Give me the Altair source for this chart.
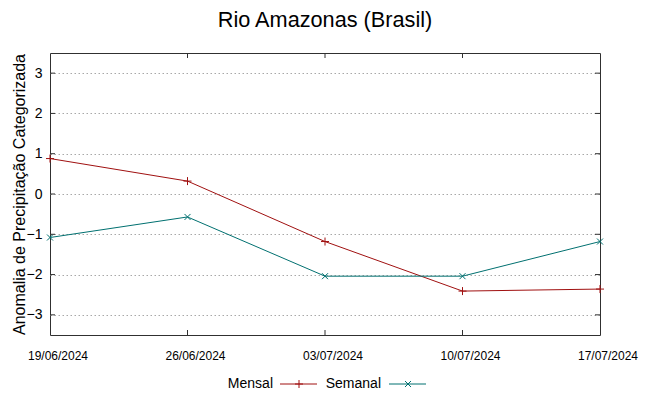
import altair as alt
import pandas as pd

dates = ["19/06/2024", "26/06/2024", "03/07/2024", "10/07/2024", "17/07/2024"]
mensal = [0.88, 0.32, -1.18, -2.41, -2.36]
semanal = [-1.08, -0.57, -2.04, -2.04, -1.18]
series = ["Mensal", "Semanal"]
colors = ["#a01010", "#007070"]
y_ticks = [-3, -2, -1, 0, 1, 2, 3]

W, H = 550, 282
FONT = "Liberation Sans"

rows = []
for d, m, s in zip(dates, mensal, semanal):
    rows.append({"date": d, "serie": series[0], "valor": m})
    rows.append({"date": d, "serie": series[1], "valor": s})
df = pd.DataFrame(rows)

xscale = alt.Scale(type="point", domain=dates, padding=0)
yscale = alt.Scale(domain=[-3.5, 3.5], nice=False, zero=False)

x_enc = alt.X("date:O", scale=xscale, sort=dates, axis=None)
y_enc = alt.Y("valor:Q", scale=yscale,
              axis=alt.Axis(title="Anomalia de Precipitação Categorizada", values=y_ticks,
                            titleFontSize=16, titleFont=FONT, titleFontWeight="normal",
                            titleColor="#000000", titlePadding=-1,
                            labelFontSize=14, labelFont=FONT, labelColor="#000000",
                            ticks=False, domain=False, grid=True, gridColor="#a8a8a8",
                            gridDash=[1.5, 2.5], gridWidth=1, labelPadding=8))

color_scale = alt.Scale(domain=series, range=colors)

lines = alt.Chart(df).mark_line(strokeWidth=1).encode(
    x=x_enc, y=y_enc,
    color=alt.Color("serie:N", scale=color_scale, legend=None),
    detail="serie:N",
)

plus_path = "M-1,0L1,0M0,-1L0,1"
cross_path = "M-1,-1L1,1M-1,1L1,-1"

pts_m = alt.Chart(df[df.serie == series[0]]).mark_point(
    shape=plus_path, filled=False, size=64, strokeWidth=1, opacity=1, color=colors[0]
).encode(x=alt.X("date:O", scale=xscale, sort=dates), y=alt.Y("valor:Q", scale=yscale))
pts_s = alt.Chart(df[df.serie == series[1]]).mark_point(
    shape=cross_path, filled=False, size=36, strokeWidth=1, opacity=1, color=colors[1]
).encode(x=alt.X("date:O", scale=xscale, sort=dates), y=alt.Y("valor:Q", scale=yscale))

# x tick labels (gnuplot-style, shifted slightly right of the tick)
xlab_df = pd.DataFrame({"date": dates})
xlabels = alt.Chart(xlab_df).mark_text(fontSize=12, font=FONT, color="#000000",
                                       baseline="middle", align="center", dx=8).encode(
    x=alt.X("date:O", scale=xscale, sort=dates), y=alt.value(H + 21), text="date:N")

# inward tick marks on the frame
ytdf = pd.DataFrame({"t": y_ticks})
xtdf = pd.DataFrame({"date": dates[1:-1]})
tick_col = "#303030"
yt_left = alt.Chart(ytdf).mark_rule(color=tick_col, strokeWidth=1).encode(
    y=alt.Y("t:Q", scale=yscale), x=alt.value(0), x2=alt.value(5))
yt_right = alt.Chart(ytdf).mark_rule(color=tick_col, strokeWidth=1).encode(
    y=alt.Y("t:Q", scale=yscale), x=alt.value(W - 5), x2=alt.value(W))
xt_bot = alt.Chart(xtdf).mark_rule(color=tick_col, strokeWidth=1).encode(
    x=alt.X("date:O", scale=xscale, sort=dates), y=alt.value(H - 5), y2=alt.value(H))
xt_top = alt.Chart(xtdf).mark_rule(color=tick_col, strokeWidth=1).encode(
    x=alt.X("date:O", scale=xscale, sort=dates), y=alt.value(0), y2=alt.value(5))

# custom legend below the plot
one = pd.DataFrame({"k": [0]})
LY = 331
leg = []
leg_spec = [
    (series[0], colors[0], plus_path, 64, 223, 230, 267, 249),
    (series[1], colors[1], cross_path, 36, 331, 339, 376, 358),
]
for name, col, shp, sz, tx, l1, l2, px in leg_spec:
    leg.append(alt.Chart(one).mark_text(align="right", baseline="middle", fontSize=14,
                                        font=FONT, color="#000000").encode(
        x=alt.value(tx), y=alt.value(LY), text=alt.value(name)))
    leg.append(alt.Chart(one).mark_rule(color=col, strokeWidth=1).encode(
        x=alt.value(l1), x2=alt.value(l2), y=alt.value(LY)))
    leg.append(alt.Chart(one).mark_point(shape=shp, filled=False, size=sz, strokeWidth=1,
                                         opacity=1, color=col).encode(
        x=alt.value(px), y=alt.value(LY)))

chart = alt.layer(lines, pts_m, pts_s, xlabels, yt_left, yt_right, xt_bot, xt_top, *leg).properties(
    width=W, height=H,
    title=alt.Title("Rio Amazonas (Brasil)", fontSize=21.7, font=FONT, fontWeight="normal",
                    color="#000000", anchor="middle", baseline="alphabetic", offset=4),
    autosize=alt.AutoSizeParams(type="none"),
    padding={"left": 42, "top": 45, "right": 41, "bottom": 58},
).configure_view(stroke="#303030", strokeWidth=1)

chart.save("out.html", embed_options={"renderer": "svg", "actions": False})
